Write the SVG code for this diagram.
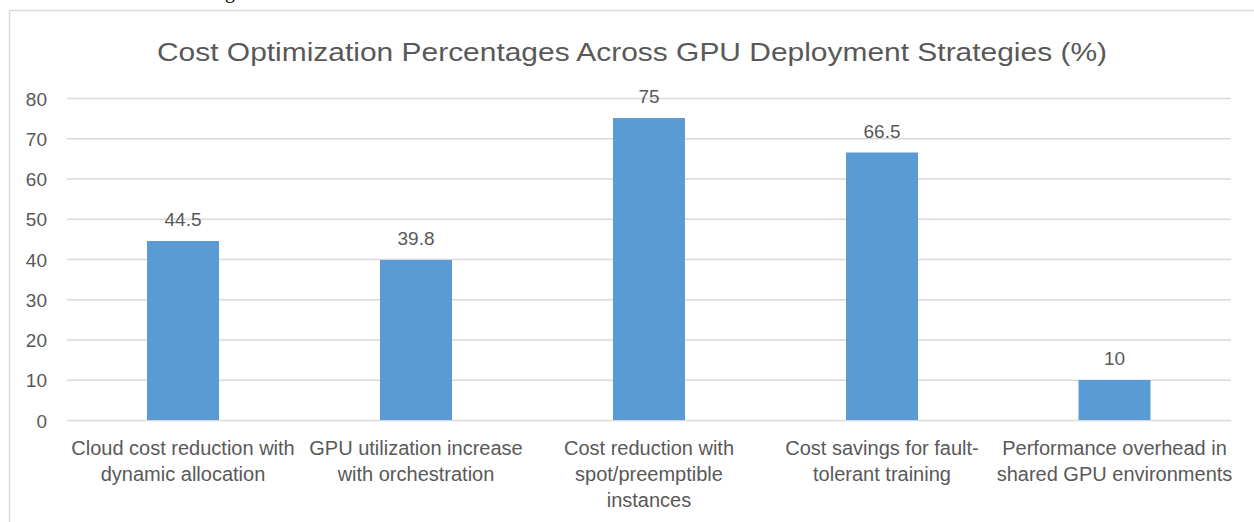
<svg xmlns="http://www.w3.org/2000/svg" width="1254" height="522" viewBox="0 0 1254 522">
<style>
text{font-family:"Liberation Sans","Open Sans",Arial,sans-serif;fill:#595959}
.grid{stroke:#d9d9d9;stroke-width:1.5}
.bar{fill:#5b9bd5}
.ax{font-size:19px;text-anchor:end}
.val{font-size:19px;text-anchor:middle}
.cat{font-size:20px;text-anchor:middle}
</style>
<rect width="1254" height="522" fill="#ffffff"/>
<text x="225" y="-2" style="font-family:'Liberation Serif',serif;font-size:20px;fill:#000">g</text>
<path d="M9.5 522 V10.5 H1254" fill="none" stroke="#d9d9d9" stroke-width="1.5"/>
<text x="632" y="61" style="font-size:25px;text-anchor:middle" textLength="950" lengthAdjust="spacingAndGlyphs">Cost Optimization Percentages Across GPU Deployment Strategies (%)</text>
<g id="grid">
<line class="grid" x1="67" y1="98.5" x2="1231" y2="98.5"/>
<line class="grid" x1="67" y1="138.75" x2="1231" y2="138.75"/>
<line class="grid" x1="67" y1="179" x2="1231" y2="179"/>
<line class="grid" x1="67" y1="219.25" x2="1231" y2="219.25"/>
<line class="grid" x1="67" y1="259.5" x2="1231" y2="259.5"/>
<line class="grid" x1="67" y1="299.75" x2="1231" y2="299.75"/>
<line class="grid" x1="67" y1="340" x2="1231" y2="340"/>
<line class="grid" x1="67" y1="380.25" x2="1231" y2="380.25"/>
<line class="grid" x1="67" y1="420.5" x2="1231" y2="420.5"/>
</g>
<g id="yaxis">
<text class="ax" x="47" y="105.5">80</text>
<text class="ax" x="47" y="145.75">70</text>
<text class="ax" x="47" y="186">60</text>
<text class="ax" x="47" y="226.25">50</text>
<text class="ax" x="47" y="266.5">40</text>
<text class="ax" x="47" y="306.75">30</text>
<text class="ax" x="47" y="347">20</text>
<text class="ax" x="47" y="387.25">10</text>
<text class="ax" x="47" y="427.5">0</text>
</g>
<g id="bar1">
<rect class="bar" x="147" y="241" width="72" height="179"/>
<text class="val" x="183" y="226">44.5</text>
<text class="cat" x="183" y="455">Cloud cost reduction with</text>
<text class="cat" x="183" y="481">dynamic allocation</text>
</g>
<g id="bar2">
<rect class="bar" x="380" y="260" width="72" height="160"/>
<text class="val" x="416" y="245">39.8</text>
<text class="cat" x="416" y="455">GPU utilization increase</text>
<text class="cat" x="416" y="481">with orchestration</text>
</g>
<g id="bar3">
<rect class="bar" x="613" y="118" width="72" height="302"/>
<text class="val" x="649" y="103">75</text>
<text class="cat" x="649" y="455">Cost reduction with</text>
<text class="cat" x="649" y="481">spot/preemptible</text>
<text class="cat" x="649" y="507">instances</text>
</g>
<g id="bar4">
<rect class="bar" x="846" y="152.5" width="72" height="267.5"/>
<text class="val" x="882" y="137.5">66.5</text>
<text class="cat" x="882" y="455">Cost savings for fault-</text>
<text class="cat" x="882" y="481">tolerant training</text>
</g>
<g id="bar5">
<rect class="bar" x="1078.5" y="380" width="72" height="40"/>
<text class="val" x="1114.5" y="365">10</text>
<text class="cat" x="1114.5" y="455">Performance overhead in</text>
<text class="cat" x="1114.5" y="481">shared GPU environments</text>
</g>
</svg>
